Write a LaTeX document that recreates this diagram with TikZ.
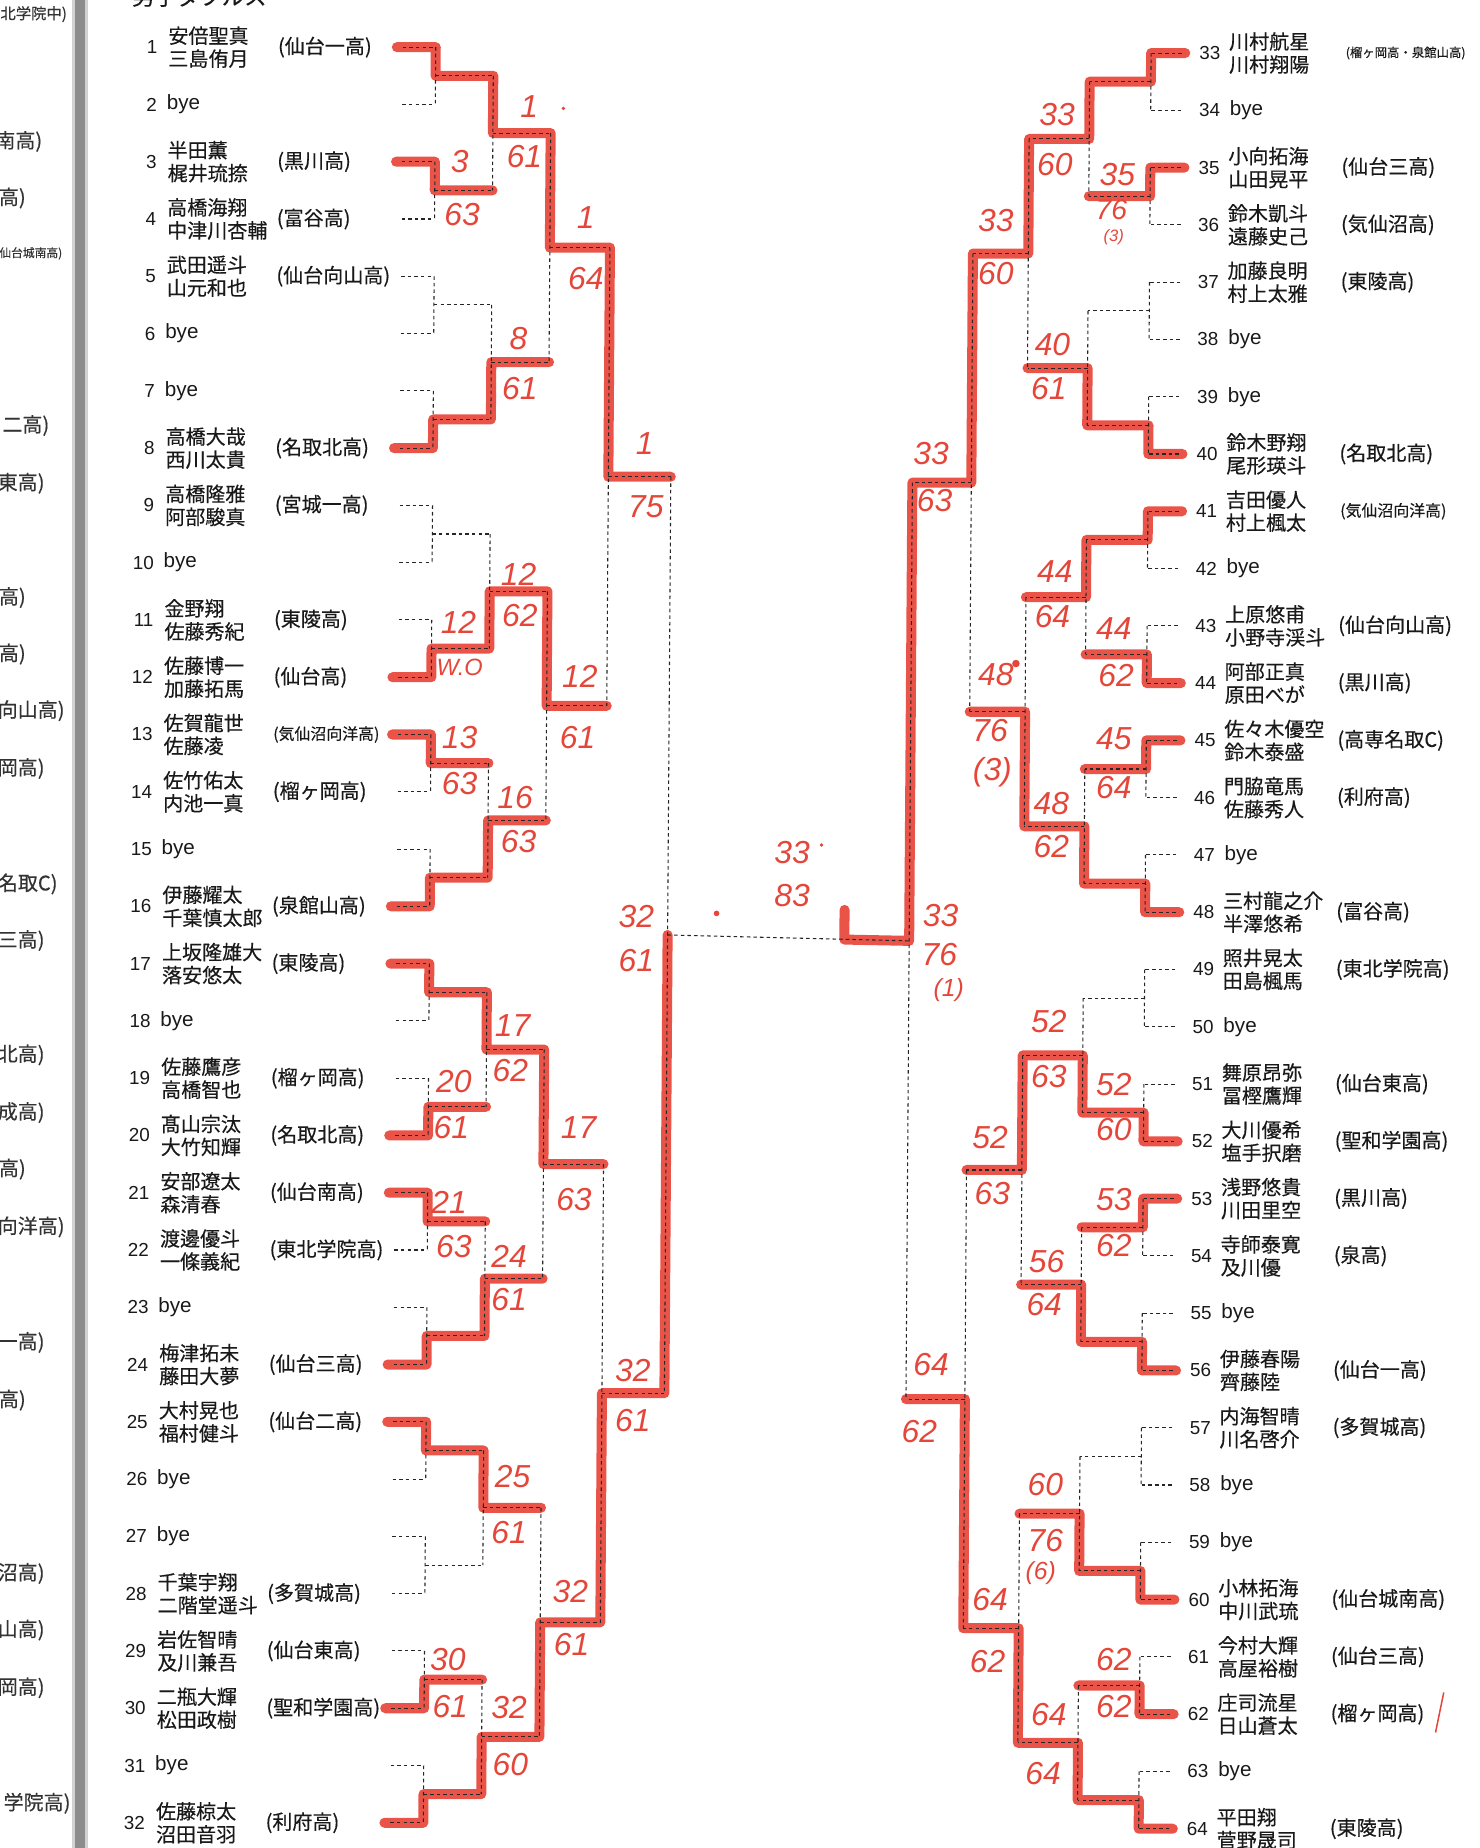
\documentclass[tikz,border=0pt]{standalone}
\usepackage{fontspec}
\setmainfont{Noto Sans CJK JP}[FakeBold=0.35]
\newfontfamily\numfont{Liberation Sans}
\definecolor{marker}{RGB}{234,84,72}
\definecolor{ink}{RGB}{228,70,58}
\definecolor{txt}{RGB}{25,25,25}
\tikzset{
  declare function={yl(\i)=40+(\i-1)*48.6; yr(\j)=45+(\j-1)*48.6;},
  dsh/.style={draw=black!85, line width=0.9pt, dash pattern=on 3pt off 2.6pt},
  win/.style={draw=marker, line width=8.5pt, line cap=round, line join=round},
  hand/.style={text=ink, font=\numfont\itshape\fontsize{27}{27}\selectfont, inner sep=0pt},
  handsm/.style={text=ink, font=\numfont\itshape\fontsize{15}{15}\selectfont, inner sep=0pt},
  num/.style={text=txt, font=\numfont\fontsize{16}{16}\selectfont, anchor=east, inner sep=0pt},
  byet/.style={text=txt, font=\numfont\fontsize{17.5}{17.5}\selectfont, anchor=west, inner sep=0pt},
  nm/.style={text=txt, font=\fontsize{17}{19.5}\selectfont, align=left, anchor=west, inner sep=0pt},
  sch/.style={text=txt, font=\fontsize{17}{17}\selectfont, anchor=west, inner sep=0pt},
  cuttxt/.style={text=black!80, font=\fontsize{17}{17}\selectfont, anchor=east, inner sep=0pt},
}
\begin{document}
\begin{tikzpicture}[x=1pt,y=-1pt]
\useasboundingbox (0,0) rectangle (1255,1568);
% binding shadow
\fill[black!18] (61,-2) rectangle (75,1570);
\fill[black!45] (64,-2) rectangle (72,1570);
% clipped texts of the neighbouring page
\node[cuttxt, font=\fontsize{13}{13}\selectfont] (cut0) at (57,12) {(東北学院中)};
\node[cuttxt, font=\fontsize{10}{10}\selectfont] (cutS) at (53,215) {(仙台城南高)};
\foreach \x/\y/\t [count=\c] in {36/120/南高), 22/168/高), 42/361/二高), 38/410/東高), 22/507/高), 22/555/高), 55/603/向山高), 38/652/岡高), 49/750/名取C), 38/798/三高), 38/895/北高), 38/944/成高), 22/992/高), 55/1041/向洋高), 38/1139/一高), 22/1188/高), 38/1335/沼高), 38/1383/山高), 38/1432/岡高), 60/1530/学院高)}
  \node[cuttxt] (cut\c) at (\x,\y) {\t};
% title, cut at the top
\node[anchor=south west, inner sep=0pt, text=txt, font=\fontsize{19}{19}\selectfont] (title) at (112,6) {男子ダブルス};

\begin{scope}[xslant=0.007]
% ---------- coordinates ----------
\foreach \i in {1,...,32}{
  \pgfmathsetmacro\yy{yl(\i)}
  \coordinate (sL-\i) at (342,\yy);
  \coordinate (wL-\i) at (337,\yy);
  \coordinate (L0-\i-b) at (370,\yy);
  \pgfmathsetmacro\yq{yr(\i)}
  \coordinate (sR-\i) at (1003,\yq);
  \coordinate (wR-\i) at (1006,\yq);
  \coordinate (R0-\i-b) at (977,\yq);
}
\foreach \lev/\ca/\cb/\ra/\rb in {1/370/419/977/925, 2/419/468/925/874, 3/468/519/874/827, 4/519/572/827/777, 5/572/572/777/777}{
  \pgfmathtruncatemacro\n{32/(2^\lev)}
  \pgfmathtruncatemacro\sz{2^\lev}
  \foreach \g in {1,...,\n}{
    \pgfmathsetmacro\ym{(yl((\g-1)*\sz+1)+yl(\g*\sz))/2}
    \pgfmathsetmacro\ymr{(yr((\g-1)*\sz+1)+yr(\g*\sz))/2}
    \coordinate (L\lev-\g-a) at (\ca,\ym);
    \coordinate (L\lev-\g-b) at (\cb,\ym);
    \coordinate (R\lev-\g-a) at (\ra,\ymr);
    \coordinate (R\lev-\g-b) at (\rb,\ymr);
  }
}
\coordinate (Fk) at (722,797.2);
\coordinate (Fu) at (722,772);

% ---------- winners (red marker) ----------
\draw[win] (wL-1)--(L0-1-b)--(L1-1-a)--(L1-1-b)--(L2-1-a)--(L2-1-b)--(L3-1-a)--(L3-1-b)--(L4-1-a)--(L4-1-b);
\draw[win] (wL-3)--(L0-3-b)--(L1-2-a)--(L1-2-b);
\draw[win] (wL-8)--(L0-8-b)--(L1-4-a)--(L1-4-b)--(L2-2-a)--(L2-2-b);
\draw[win] (wL-12)--(L0-12-b)--(L1-6-a)--(L1-6-b)--(L2-3-a)--(L2-3-b)--(L3-2-a)--(L3-2-b);
\draw[win] (wL-13)--(L0-13-b)--(L1-7-a)--(L1-7-b);
\draw[win] (wL-16)--(L0-16-b)--(L1-8-a)--(L1-8-b)--(L2-4-a)--(L2-4-b);
\draw[win] (wL-17)--(L0-17-b)--(L1-9-a)--(L1-9-b)--(L2-5-a)--(L2-5-b)--(L3-3-a)--(L3-3-b);
\draw[win] (wL-20)--(L0-20-b)--(L1-10-a)--(L1-10-b);
\draw[win] (wL-21)--(L0-21-b)--(L1-11-a)--(L1-11-b);
\draw[win] (wL-24)--(L0-24-b)--(L1-12-a)--(L1-12-b)--(L2-6-a)--(L2-6-b);
\draw[win] (wL-25)--(L0-25-b)--(L1-13-a)--(L1-13-b)--(L2-7-a)--(L2-7-b);
\draw[win] (wL-30)--(L0-30-b)--(L1-15-a)--(L1-15-b);
\draw[win] (wL-32)--(L0-32-b)--(L1-16-a)--(L1-16-b)--(L2-8-a)--(L2-8-b)--(L3-4-a)--(L3-4-b)--(L4-2-a)--(L4-2-b)--(L5-1-a);
\draw[win] (wR-1)--(R0-1-b)--(R1-1-a)--(R1-1-b)--(R2-1-a)--(R2-1-b)--(R3-1-a)--(R3-1-b)--(R4-1-a)--(R4-1-b)--(R5-1-a)--(Fk)--(Fu);
\draw[win] (wR-3)--(R0-3-b)--(R1-2-a)--(R1-2-b);
\draw[win] (wR-8)--(R0-8-b)--(R1-4-a)--(R1-4-b)--(R2-2-a)--(R2-2-b);
\draw[win] (wR-9)--(R0-9-b)--(R1-5-a)--(R1-5-b)--(R2-3-a)--(R2-3-b);
\draw[win] (wR-12)--(R0-12-b)--(R1-6-a)--(R1-6-b);
\draw[win] (wR-13)--(R0-13-b)--(R1-7-a)--(R1-7-b);
\draw[win] (wR-16)--(R0-16-b)--(R1-8-a)--(R1-8-b)--(R2-4-a)--(R2-4-b)--(R3-2-a)--(R3-2-b);
\draw[win] (wR-20)--(R0-20-b)--(R1-10-a)--(R1-10-b)--(R2-5-a)--(R2-5-b)--(R3-3-a)--(R3-3-b);
\draw[win] (wR-21)--(R0-21-b)--(R1-11-a)--(R1-11-b);
\draw[win] (wR-24)--(R0-24-b)--(R1-12-a)--(R1-12-b)--(R2-6-a)--(R2-6-b);
\draw[win] (wR-28)--(R0-28-b)--(R1-14-a)--(R1-14-b)--(R2-7-a)--(R2-7-b);
\draw[win] (wR-30)--(R0-30-b)--(R1-15-a)--(R1-15-b);
\draw[win] (wR-32)--(R0-32-b)--(R1-16-a)--(R1-16-b)--(R2-8-a)--(R2-8-b)--(R3-4-a)--(R3-4-b)--(R4-2-a)--(R4-2-b);

% ---------- printed dotted bracket ----------
\foreach \s in {L,R}{
  \foreach \i in {1,...,32} \draw[dsh] (s\s-\i) -- (\s0-\i-b);
  \foreach \lev in {1,...,5}{
    \pgfmathtruncatemacro\n{32/(2^\lev)}
    \pgfmathtruncatemacro\pl{\lev-1}
    \foreach \g in {1,...,\n}{
      \pgfmathtruncatemacro\ga{2*\g-1}
      \pgfmathtruncatemacro\gb{2*\g}
      \draw[dsh] (\s\pl-\ga-b) -- (\s\pl-\gb-b);
      \ifnum\lev<5 \draw[dsh] (\s\lev-\g-a) -- (\s\lev-\g-b);\fi
    }
  }
}
\draw[dsh] (L5-1-a) -- (R5-1-a);

% ---------- players, left ----------
\foreach \i/\a/\b/\t in {1/安倍聖真/三島侑月/仙台一高, 3/半田薫/梶井琉捺/黒川高, 4/高橋海翔/中津川杏輔/富谷高, 5/武田遥斗/山元和也/仙台向山高, 8/高橋大哉/西川太貴/名取北高, 9/高橋隆雅/阿部駿真/宮城一高, 11/金野翔/佐藤秀紀/東陵高, 12/佐藤博一/加藤拓馬/仙台高, 14/佐竹佑太/内池一真/榴ヶ岡高, 16/伊藤耀太/千葉慎太郎/泉館山高, 17/上坂隆雄大/落安悠太/東陵高, 19/佐藤鷹彦/高橋智也/榴ヶ岡高, 20/髙山宗汰/大竹知輝/名取北高, 21/安部遼太/森清春/仙台南高, 22/渡邊優斗/一條義紀/東北学院高, 24/梅津拓未/藤田大夢/仙台三高, 25/大村晃也/福村健斗/仙台二高, 28/千葉宇翔/二階堂遥斗/多賀城高, 29/岩佐智晴/及川兼吾/仙台東高, 30/二瓶大輝/松田政樹/聖和学園高, 32/佐藤椋太/沼田音羽/利府高}{
  \pgfmathsetmacro\yy{yl(\i)}
  \node[num] (numL\i) at (134,\yy) {\i};
  \node[nm] (nmL\i) at (143,\yy) {\a\\\b};
  \node[sch] (schL\i) at (236,\yy) {(\t)};
}
\pgfmathsetmacro\yy{yl(13)}
\node[num] (numL13) at (134,\yy) {13};
\node[nm] (nmL13) at (143,\yy) {佐賀龍世\\佐藤凌};
\node[sch, font=\fontsize{13.5}{13.5}\selectfont] (schL13) at (236,\yy) {(気仙沼向洋高)};
\foreach \i in {2,6,7,10,15,18,23,26,27,31}{
  \pgfmathsetmacro\yy{yl(\i)}
  \node[num] (numL\i) at (134,\yy) {\i};
  \node[byet] (byeL\i) at (142,\yy) {bye};
}
% ---------- players, right ----------
\foreach \i/\a/\b/\t in {35/小向拓海/山田晃平/仙台三高, 36/鈴木凱斗/遠藤史己/気仙沼高, 37/加藤良明/村上太雅/東陵高, 40/鈴木野翔/尾形瑛斗/名取北高, 43/上原悠甫/小野寺渓斗/仙台向山高, 44/阿部正真/原田べが/黒川高, 45/佐々木優空/鈴木泰盛/高専名取C, 46/門脇竜馬/佐藤秀人/利府高, 48/三村龍之介/半澤悠希/富谷高, 49/照井晃太/田島楓馬/東北学院高, 51/舞原昂弥/冨樫鷹輝/仙台東高, 52/大川優希/塩手択磨/聖和学園高, 53/浅野悠貴/川田里空/黒川高, 54/寺師泰寛/及川優/泉高, 56/伊藤春陽/齊藤陸/仙台一高, 57/内海智晴/川名啓介/多賀城高, 60/小林拓海/中川武琉/仙台城南高, 61/今村大輝/高屋裕樹/仙台三高, 62/庄司流星/日山蒼太/榴ヶ岡高, 64/平田翔/菅野晟司/東陵高}{
  \pgfmathsetmacro\yy{yr(\i-32)}
  \node[num] (numR\i) at (1036,\yy) {\i};
  \node[nm] (nmR\i) at (1043,\yy) {\a\\\b};
  \node[sch] (schR\i) at (1139,\yy) {(\t)};
}
\pgfmathsetmacro\yy{yr(1)}
\node[num] (numR33) at (1036,\yy) {33};
\node[nm] (nmR33) at (1043,\yy) {川村航星\\川村翔陽};
\node[sch, font=\fontsize{10.5}{10.5}\selectfont] (schR33) at (1142,\yy) {(榴ヶ岡高・泉館山高)};
\pgfmathsetmacro\yy{yr(9)}
\node[num] (numR41) at (1036,\yy) {41};
\node[nm] (nmR41) at (1043,\yy) {吉田優人\\村上楓太};
\node[sch, font=\fontsize{13.5}{13.5}\selectfont] (schR41) at (1140,\yy) {(気仙沼向洋高)};
\foreach \i in {34,38,39,42,47,50,55,58,59,63}{
  \pgfmathsetmacro\yy{yr(\i-32)}
  \node[num] (numR\i) at (1036,\yy) {\i};
  \node[byet] (byeR\i) at (1044,\yy) {bye};
}
\end{scope}

% ---------- handwritten results ----------
\foreach \x/\y/\t [count=\c] in {449/90/1, 445/133/61, 390/137/3, 392/182/63, 497/185/1, 497/236/64, 440/287/8, 441/330/61, 547/376/1, 548/430/75, 440/487/12, 441/522/62, 389/528/12, 492/574/12, 490/626/61, 390/626/13, 390/665/63, 437/677/16, 440/714/63, 540/778/32, 540/815/61, 435/870/17, 433/908/62, 385/918/20, 383/957/61, 491/957/17, 487/1018/63, 381/1020/21, 385/1058/63, 432/1066/24, 432/1103/61, 537/1163/32, 537/1205/61, 435/1253/25, 432/1300/61, 484/1350/32, 485/1395/61, 380/1408/30, 382/1448/61, 432/1449/32, 433/1497/60, 672/723/33, 672/760/83, 897/97/33, 895/140/60, 948/148/35, 845/187/33, 845/232/60, 893/292/40, 890/330/61, 790/385/33, 793/425/63, 895/485/44, 893/523/64, 945/533/44, 947/573/62, 845/572/48, 840/620/76, 842/655/(3), 945/627/45, 945/668/64, 892/682/48, 892/718/62, 798/777/33, 797/810/76, 890/867/52, 890/913/63, 945/920/52, 945/958/60, 840/965/52, 842/1013/63, 945/1018/53, 945/1057/62, 888/1070/56, 886/1107/64, 790/1158/64, 780/1215/62, 887/1260/60, 887/1307/76, 840/1357/64, 838/1410/62, 945/1408/62, 945/1448/62, 890/1455/64, 885/1505/64}
  \node[hand] (h\c) at (\x,\y) {\t};
\node[hand, font=\numfont\itshape\fontsize{20}{20}\selectfont] (hwo) at (390,566) {W.O};
\node[hand, font=\numfont\itshape\fontsize{24}{24}\selectfont] (h76) at (943,178) {76};
\node[handsm, font=\numfont\itshape\fontsize{14}{14}\selectfont] (hs1) at (945,201) {(3)};
\node[handsm, font=\numfont\itshape\fontsize{21}{21}\selectfont] (hs2) at (805,840) {(1)};
\node[handsm, font=\numfont\itshape\fontsize{21}{21}\selectfont] (hs3) at (883,1335) {(6)};
% stray marks
\fill[ink] (478,92) circle (1.6);
\fill[ink] (697,717) circle (1.6);
\fill[ink] (862,563) circle (3.2);
\fill[ink] (608,775) circle (2.4);
\draw[ink, line width=1.3pt] (1225,1436) -- (1218,1470);
\end{tikzpicture}
\end{document}
